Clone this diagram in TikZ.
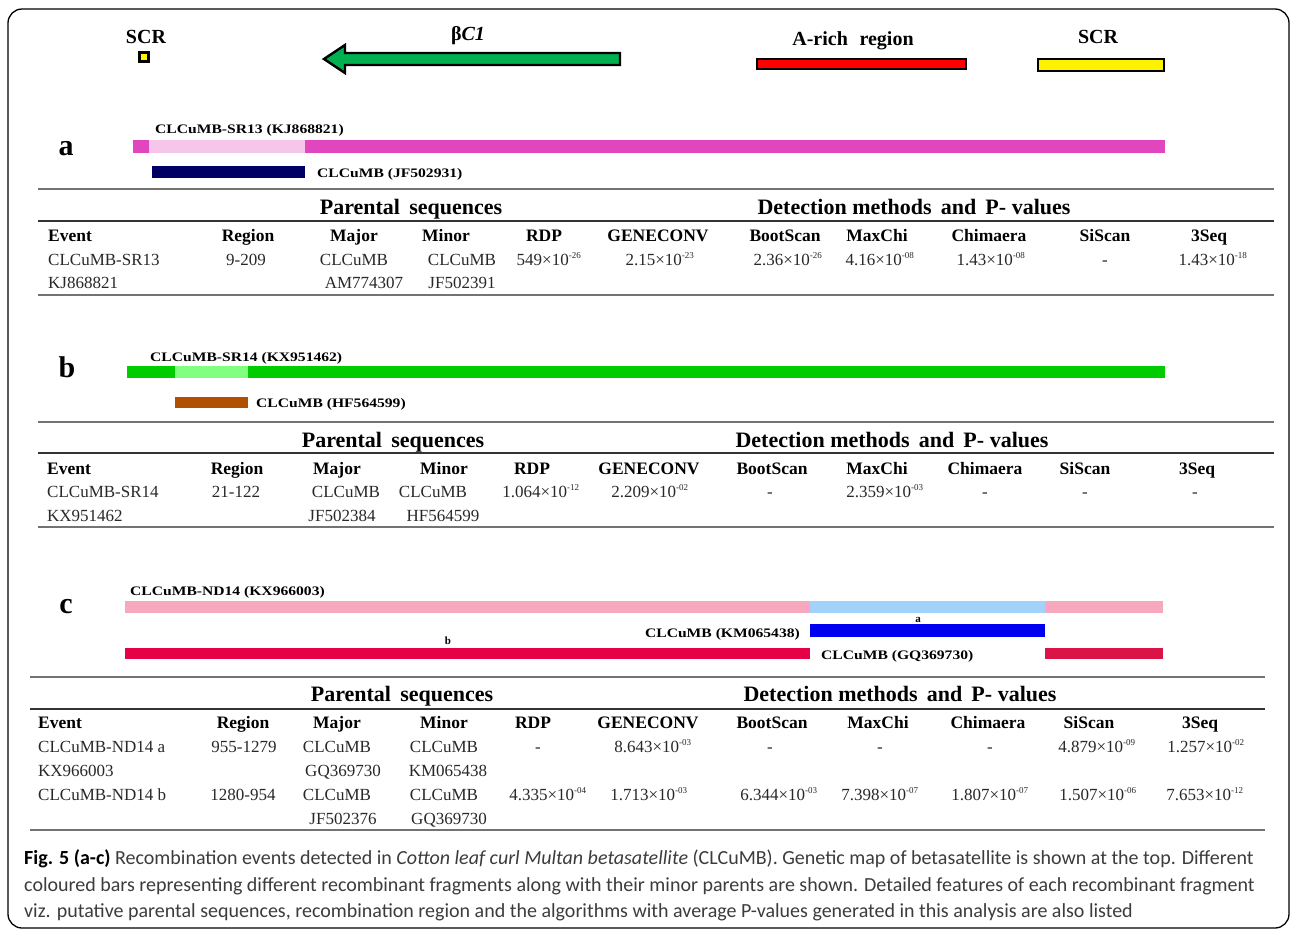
\documentclass[tikz,border=0pt]{standalone}
\usepackage{fontspec}
\setmainfont{Liberation Serif}
\newfontfamily\capfont{Carlito}
\definecolor{arrgreen}{RGB}{0,176,80}
\definecolor{magA}{RGB}{226,70,190}
\definecolor{pinkA}{RGB}{246,198,234}
\definecolor{navyA}{RGB}{0,0,100}
\definecolor{greenB}{RGB}{0,204,0}
\definecolor{lgreenB}{RGB}{128,255,128}
\definecolor{brownB}{RGB}{176,80,0}
\definecolor{pinkC}{RGB}{248,168,190}
\definecolor{lblueC}{RGB}{160,210,250}
\definecolor{blueC}{RGB}{0,0,240}
\definecolor{crimC}{RGB}{230,0,70}
\definecolor{crimD}{RGB}{218,20,70}
\definecolor{capgray}{RGB}{60,60,60}
\definecolor{celltext}{RGB}{40,40,40}
\newcommand\pv[2]{#1×10\textsuperscript{\fontsize{9}{10}\selectfont #2}}
\tikzset{
  cell/.style={anchor=base,inner sep=0pt,text=celltext,font=\fontsize{17}{19}\selectfont},
  lcell/.style={cell,anchor=base west},
  hd/.style={anchor=base,inner sep=0pt,font=\fontsize{17.5}{19}\selectfont\bfseries},
  lhd/.style={hd,anchor=base west},
  bighd/.style={anchor=base,inner sep=0pt,font=\fontsize{22}{24}\selectfont\bfseries},
  rulethick/.style={line width=2.4pt,draw=black!55},
  rulemid/.style={line width=1.6pt,draw=black!80},
  barlabel/.style={anchor=base west,inner sep=0pt,font=\fontsize{13}{15}\selectfont\bfseries},
  panel/.style={anchor=base,inner sep=0pt,font=\fontsize{30}{32}\selectfont\bfseries},
  toplabel/.style={anchor=base,inner sep=0pt,font=\fontsize{20}{22}\selectfont\bfseries},
  capline/.style={anchor=base west,inner sep=0pt,font=\capfont\fontsize{20}{22}\selectfont,text=capgray},
}
\newcommand\bl[1]{\scalebox{1.2}[1]{#1}}
\begin{document}
\begin{tikzpicture}[x=1pt,y=-1pt]
\useasboundingbox (0,0) rectangle (1292,932);
\fill[white] (0,0) rectangle (1292,932);
\draw[line width=1.3pt,rounded corners=14pt] (8,9) rectangle (1289,928);

% ---------- genetic map ----------
\node[toplabel] (scr1) at (146,43) {SCR};
\draw[line width=2.6pt,fill=yellow] (139.5,52.5) rectangle (148.5,61.5);
\node[toplabel] (bc1) at (468,40) {β\textit{C1}};
\draw[line width=2.4pt,fill=arrgreen] (620,53) -- (345,53) -- (345,45) -- (324,59) -- (345,73) -- (345,65) -- (620,65) -- cycle;
\node[toplabel] (arich) at (853,45) {A-rich\,\, region};
\draw[line width=2.8pt,fill=red] (757,59) rectangle (966,69);
\node[toplabel] (scr2) at (1098,43) {SCR};
\draw[line width=2.8pt,fill=yellow] (1038,59) rectangle (1164,71);

% ---------- panel a ----------
\node[panel] (pa) at (66,155) {a};
\node[barlabel] (la1) at (155,133) {\bl{CLCuMB-SR13 (KJ868821)}};
\fill[magA] (133,140) rectangle (1165,153);
\fill[pinkA] (149,140) rectangle (305,153);
\fill[navyA] (152,166) rectangle (305,178);
\node[barlabel] (la2) at (317,177) {\bl{CLCuMB (JF502931)}};

\draw[rulethick] (38,189) -- (1274,189);
\node[bighd] (pa-ps) at (411,214) {Parental\, sequences};
\node[bighd] (pa-dm) at (914,214) {Detection methods\, and\, P- values};
\draw[rulemid] (38,221) -- (1274,221);
\node[lhd] (pa-ev) at (48,241) {Event};
\foreach \x/\t [count=\i] in {248/Region,354/Major,446/Minor,544/RDP,658/GENECONV,785/BootScan,877/MaxChi,989/Chimaera,1105/SiScan,1209/3Seq}
  \node[hd] (pa-h\i) at (\x,241) {\t};
\node[lcell] (pa-e1) at (48,265) {CLCuMB-SR13};
\foreach \x/\t [count=\i] in {246/9-209,354/CLCuMB,462/CLCuMB,549/{\pv{549}{-26}},660/{\pv{2.15}{-23}},788/{\pv{2.36}{-26}},880/{\pv{4.16}{-08}},991/{\pv{1.43}{-08}},1105/-,1213/{\pv{1.43}{-18}}}
  \node[cell] (pa-r\i) at (\x,265) {\t};
\node[lcell] (pa-e2) at (48,288) {KJ868821};
\node[cell] (pa-m2) at (364,288) {AM774307};
\node[cell] (pa-n2) at (462,288) {JF502391};
\draw[rulethick] (38,295) -- (1274,295);

% ---------- panel b ----------
\node[panel] (pb) at (67,377) {b};
\node[barlabel] (lb1) at (150,361) {\bl{CLCuMB-SR14 (KX951462)}};
\fill[greenB] (127,366) rectangle (1165,378);
\fill[lgreenB] (175,366) rectangle (248,378);
\fill[brownB] (175,397) rectangle (248,408);
\node[barlabel] (lb2) at (256,407) {\bl{CLCuMB (HF564599)}};

\draw[rulethick] (38,422) -- (1274,422);
\node[bighd] (pb-ps) at (393,447) {Parental\, sequences};
\node[bighd] (pb-dm) at (892,447) {Detection methods\, and\, P- values};
\draw[rulemid] (38,453) -- (1274,453);
\node[lhd] (pb-ev) at (47,474) {Event};
\foreach \x/\t [count=\i] in {237/Region,337/Major,444/Minor,532/RDP,649/GENECONV,772/BootScan,877/MaxChi,985/Chimaera,1085/SiScan,1197/3Seq}
  \node[hd] (pb-h\i) at (\x,474) {\t};
\node[lcell] (pb-e1) at (47,497) {CLCuMB-SR14};
\foreach \x/\t [count=\i] in {236/21-122,346/CLCuMB,433/CLCuMB,541/{\pv{1.064}{-12}},650/{\pv{2.209}{-02}},770/-,885/{\pv{2.359}{-03}},985/-,1085/-,1195/-}
  \node[cell] (pb-r\i) at (\x,497) {\t};
\node[lcell] (pb-e2) at (47,521) {KX951462};
\node[cell] (pb-m2) at (342,521) {JF502384};
\node[cell] (pb-n2) at (443,521) {HF564599};
\draw[rulethick] (38,527) -- (1274,527);

% ---------- panel c ----------
\node[panel] (pc) at (66,613) {c};
\node[barlabel] (lc1) at (130,595) {\bl{CLCuMB-ND14 (KX966003)}};
\fill[pinkC] (125,601) rectangle (1163,613);
\fill[lblueC] (810,601) rectangle (1045,613);
\node[anchor=base,inner sep=0pt,font=\fontsize{11}{12}\selectfont\bfseries] (lca) at (918,622) {a};
\fill[blueC] (810,624) rectangle (1045,637);
\node[barlabel,anchor=base east] (lc2) at (800,637) {\bl{CLCuMB (KM065438)}};
\node[anchor=base,inner sep=0pt,font=\fontsize{11}{12}\selectfont\bfseries] (lcb) at (448,644) {b};
\fill[crimC] (125,648) rectangle (810,659);
\fill[crimD] (1045,648) rectangle (1163,659);
\node[barlabel] (lc3) at (821,659) {\bl{CLCuMB (GQ369730)}};

\draw[rulethick] (30,677) -- (1265,677);
\node[bighd] (pc-ps) at (402,701) {Parental\, sequences};
\node[bighd] (pc-dm) at (900,701) {Detection methods\, and\, P- values};
\draw[rulemid] (30,709) -- (1265,709);
\node[lhd] (pc-ev) at (38,728) {Event};
\foreach \x/\t [count=\i] in {243/Region,337/Major,444/Minor,533/RDP,648/GENECONV,772/BootScan,878/MaxChi,988/Chimaera,1089/SiScan,1200/3Seq}
  \node[hd] (pc-h\i) at (\x,728) {\t};
\node[lcell] (pc-e1) at (38,752) {CLCuMB-ND14 a};
\foreach \x/\t [count=\i] in {244/955-1279,337/CLCuMB,444/CLCuMB,538/-,653/{\pv{8.643}{-03}},770/-,880/-,990/-,1097/{\pv{4.879}{-09}},1206/{\pv{1.257}{-02}}}
  \node[cell] (pc-r\i) at (\x,752) {\t};
\node[lcell] (pc-e2) at (38,776) {KX966003};
\node[cell] (pc-m2) at (343,776) {GQ369730};
\node[cell] (pc-n2) at (448,776) {KM065438};
\node[lcell] (pc-e3) at (38,800) {CLCuMB-ND14 b};
\foreach \x/\t [count=\i] in {243/1280-954,337/CLCuMB,444/CLCuMB,548/{\pv{4.335}{-04}},649/{\pv{1.713}{-03}},779/{\pv{6.344}{-03}},880/{\pv{7.398}{-07}},990/{\pv{1.807}{-07}},1098/{\pv{1.507}{-06}},1205/{\pv{7.653}{-12}}}
  \node[cell] (pc-s\i) at (\x,800) {\t};
\node[cell] (pc-m4) at (343,824) {JF502376};
\node[cell] (pc-n4) at (449,824) {GQ369730};
\draw[rulethick] (30,830) -- (1265,830);

% ---------- caption ----------
\node[capline] (cap1) at (24,864) {\textcolor{black}{\bfseries Fig. 5 (a-c)} Recombination events detected in \textit{Cotton leaf curl Multan betasatellite} (CLCuMB). Genetic map of betasatellite is shown at the top. Different};
\node[capline] (cap2) at (24,891) {coloured bars representing different recombinant fragments along with their minor parents are shown. Detailed features of each recombinant fragment};
\node[capline] (cap3) at (24,917) {viz. putative parental sequences, recombination region and the algorithms with average P-values generated in this analysis are also listed};
\end{tikzpicture}
\end{document}
